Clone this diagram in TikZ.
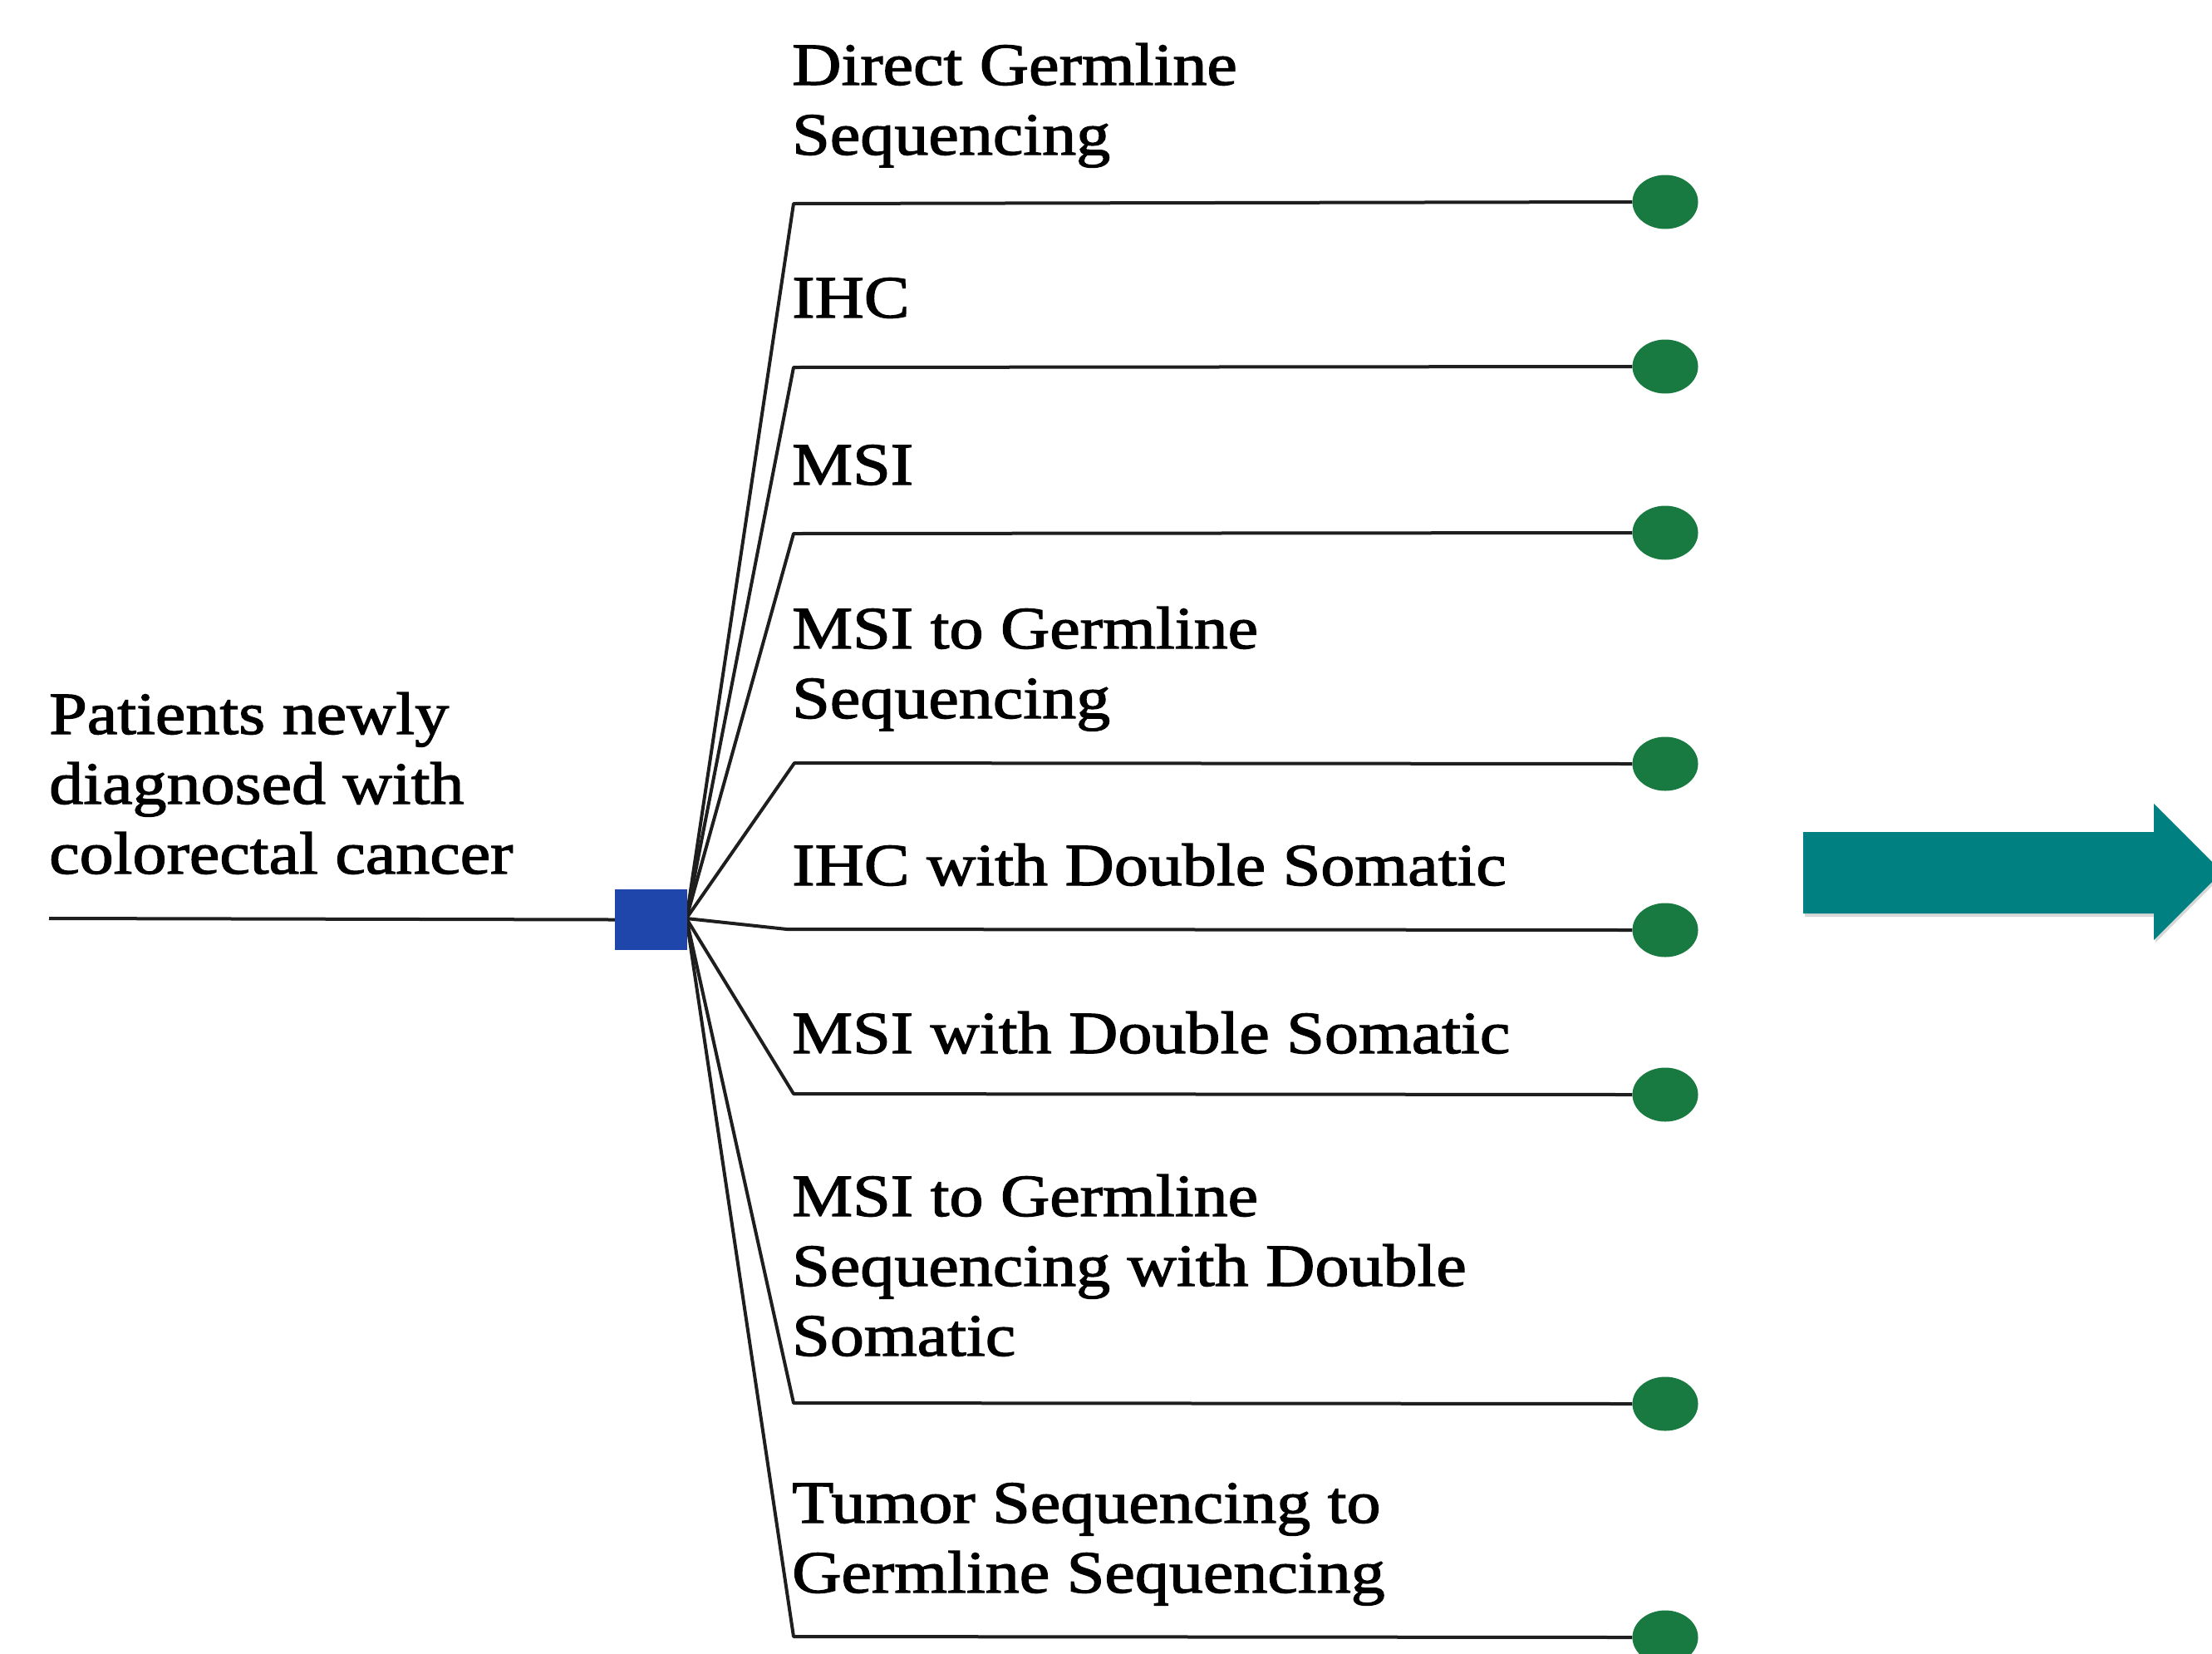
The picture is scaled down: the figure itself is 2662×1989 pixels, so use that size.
\documentclass[tikz,border=0pt]{standalone}
\usepackage{fontspec}
\setmainfont{Liberation Serif}[FakeStretch=1.14,FakeBold=1.8]
\usetikzlibrary{shapes.geometric}
\definecolor{sqblue}{RGB}{31,70,170}
\definecolor{leafgreen}{RGB}{24,122,64}
\definecolor{teal2}{RGB}{0,128,128}
\definecolor{linegray}{RGB}{30,30,30}
\tikzset{
  branch/.style={draw=linegray, line width=4pt, line join=round},
  leaf/.style={ellipse, fill=leafgreen, draw=none, minimum width=79pt, minimum height=65pt, inner sep=0pt},
  lbl/.style={anchor=base west, inner sep=0pt, font=\fontsize{72}{84}\selectfont},
  decision/.style={rectangle, fill=sqblue, draw=none, minimum width=87pt, minimum height=73pt, inner sep=0pt}
}
\newcommand{\mlines}[1]{\parbox[t]{1200pt}{\fontsize{72}{84}\selectfont\raggedright #1}}
\begin{document}
\begin{tikzpicture}[x=1pt,y=-1pt]
\path[use as bounding box] (0,0) rectangle (2662,1989);
\clip (0,0) rectangle (2662,1989);

% root
\coordinate (root) at (59,1105);
\node[decision] (sq) at (783.5,1106.5) {};
\coordinate (hub) at (826,1105);
\draw[branch] (root) -- (sq.west);

% branch start points
\coordinate (b1) at (955,245);
\coordinate (b2) at (955,442);
\coordinate (b3) at (955,642);
\coordinate (b4) at (956,918);
\coordinate (b5) at (947,1118);
\coordinate (b6) at (955,1316);
\coordinate (b7) at (955,1688);
\coordinate (b8) at (955,1969);

% leaves
\node[leaf] (e1) at (2004,243) {};
\node[leaf] (e2) at (2004,441) {};
\node[leaf] (e3) at (2004,641) {};
\node[leaf] (e4) at (2004,919) {};
\node[leaf] (e5) at (2004,1119) {};
\node[leaf] (e6) at (2004,1317) {};
\node[leaf] (e7) at (2004,1689) {};
\node[leaf] (e8) at (2004,1970) {};

\foreach \i in {1,...,8}{
  \draw[branch] (hub) -- (b\i) -- (e\i.west);
}
\node[decision] at (783.5,1106.5) {};

% labels
\node[lbl] (root-lbl) at (59,883) {\mlines{Patients newly\\diagnosed with\\colorectal cancer}};
\node[lbl] (l1) at (953,102) {\mlines{Direct Germline\\Sequencing}};
\node[lbl] (l2) at (953,382) {IHC};
\node[lbl] (l3) at (953,583) {MSI};
\node[lbl] (l4) at (953,780) {\mlines{MSI to Germline\\Sequencing}};
\node[lbl] (l5) at (953,1065) {IHC with Double Somatic};
\node[lbl] (l6) at (953,1267) {MSI with Double Somatic};
\node[lbl] (l7) at (953,1463) {\mlines{MSI to Germline\\Sequencing with Double\\Somatic}};
\node[lbl] (l8) at (953,1832) {\mlines{Tumor Sequencing to\\Germline Sequencing}};

% big arrow
\fill[black!30, opacity=0.5] (2172,1005) -- (2594,1005) -- (2594,970) -- (2676,1052) -- (2594,1134) -- (2594,1103) -- (2172,1103) -- cycle;
\fill[teal2] (2170,1001) -- (2592,1001) -- (2592,967) -- (2674,1049) -- (2592,1131) -- (2592,1099) -- (2170,1099) -- cycle;
\end{tikzpicture}
\end{document}
